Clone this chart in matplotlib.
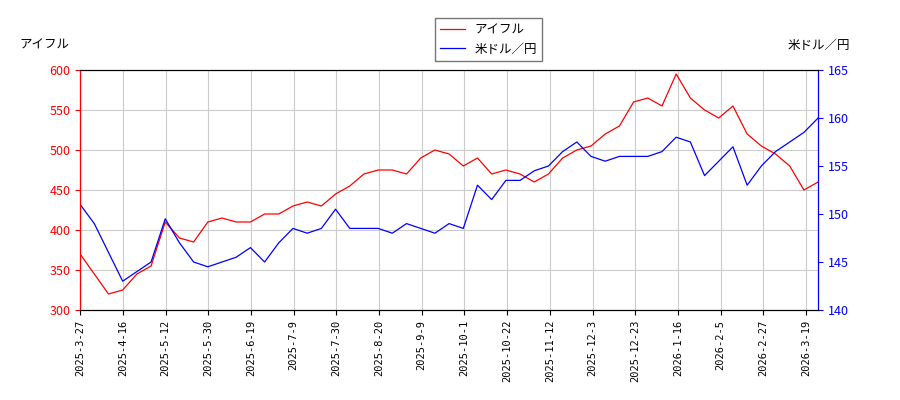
import matplotlib
matplotlib.use('Agg')
import matplotlib.pyplot as plt
import numpy as np

plt.rcParams['font.family'] = ['Noto Sans CJK JP', 'DejaVu Sans']

aiful = [370, 345, 320, 325, 345, 355, 410, 390, 385, 410, 415, 410, 410, 420, 420,
         430, 435, 430, 445, 455, 470, 475, 475, 470, 490, 500, 495, 480, 490, 470,
         475, 470, 460, 470, 490, 500, 505, 520, 530, 560, 565, 555, 595, 565, 550,
         540, 555, 520, 505, 495, 480, 450, 460]
usdjpy = [151, 149, 146, 143, 144, 145, 149.5, 147, 145, 144.5, 145, 145.5, 146.5, 145,
          147, 148.5, 148, 148.5, 150.5, 148.5, 148.5, 148.5, 148, 149, 148.5, 148, 149,
          148.5, 153, 151.5, 153.5, 153.5, 154.5, 155, 156.5, 157.5, 156, 155.5, 156, 156,
          156, 156.5, 158, 157.5, 154, 155.5, 157, 153, 155, 156.5, 157.5, 158.5, 160]
tick_labels = ['2025-3-27', '2025-4-16', '2025-5-12', '2025-5-30', '2025-6-19', '2025-7-9',
               '2025-7-30', '2025-8-20', '2025-9-9', '2025-10-1', '2025-10-22', '2025-11-12',
               '2025-12-3', '2025-12-23', '2026-1-16', '2026-2-5', '2026-2-27', '2026-3-19']

x = np.arange(len(aiful))
# labels sit on evenly spaced trading-day positions
tick_pos = np.linspace(0, (len(x) - 1) * 726 / 738, len(tick_labels))

fig = plt.figure(figsize=(9, 4), dpi=100)
ax = fig.add_axes([0.089, 0.225, 0.82, 0.6])
ax2 = ax.twinx()

l1, = ax.plot(x, aiful, color='red', lw=0.9, label='アイフル')
l2, = ax2.plot(x, usdjpy, color='blue', lw=0.9, label='米ドル／円')

ax.set_xlim(0, len(x) - 1)
ax.set_ylim(300, 600)
ax2.set_ylim(140, 165)
ax.set_xticks(tick_pos)
ax.set_xticklabels(tick_labels, rotation=90, fontsize=7.5, family='DejaVu Sans Mono')
ax.tick_params(axis='y', colors='red', labelsize=9)
ax2.tick_params(axis='y', colors='blue', labelsize=9)
ax2.spines['left'].set_color('red')
ax2.spines['right'].set_color('blue')
ax.grid(True, color='#cccccc', lw=0.8)

fig.text(0.022, 0.878, 'アイフル', fontsize=9)
fig.text(0.945, 0.878, '米ドル／円', fontsize=9, ha='right')
fig.legend(handles=[l1, l2], loc='upper center', bbox_to_anchor=(0.543, 0.97),
           fontsize=9, fancybox=False, edgecolor='#555555')

fig.savefig('out.png')
